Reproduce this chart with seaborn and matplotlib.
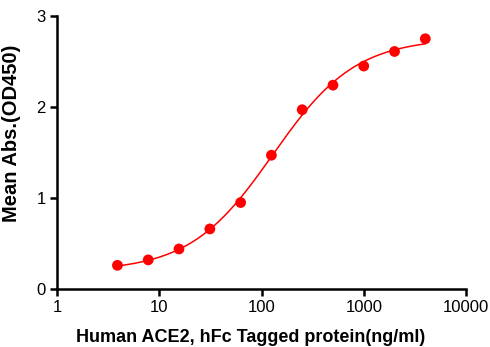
import numpy as np
import pandas as pd
import matplotlib
matplotlib.use("Agg")
import matplotlib.pyplot as plt
import seaborn as sns

# Concentration series (ng/ml) and mean OD450
conc = [3.9, 7.8, 15.6, 31.25, 62.5, 125, 250, 500, 1000, 2000, 4000]
od450 = [0.26, 0.32, 0.44, 0.66, 0.95, 1.47, 1.97, 2.24, 2.45, 2.61, 2.75]

x_ticks = [1, 10, 100, 1000, 10000]
x_tick_labels = ["1", "10", "100", "1000", "10000"]
y_ticks = [0, 1, 2, 3]

x_label = "Human ACE2, hFc Tagged protein(ng/ml)"
y_label = "Mean Abs.(OD450)"

df = pd.DataFrame({"conc": conc, "od": od450})


def logistic_4pl(x, bottom, top, ec50, hill):
    return bottom + (top - bottom) / (1 + (ec50 / x) ** hill)


# 4PL fit: grid over EC50 / hill, bottom and top solved by least squares
xs = df["conc"].to_numpy()
ys = df["od"].to_numpy()
best = None
for log_ec in np.linspace(1.0, 3.5, 251):
    for hill in np.linspace(0.5, 2.5, 201):
        f = 1 / (1 + (10 ** log_ec / xs) ** hill)
        A = np.column_stack([1 - f, f])
        coef, *_ = np.linalg.lstsq(A, ys, rcond=None)
        err = np.sum((A @ coef - ys) ** 2)
        if best is None or err < best[0]:
            best = (err, coef[0], coef[1], 10 ** log_ec, hill)
_, bottom, top, ec50, hill = best

curve = pd.DataFrame({"conc": np.geomspace(min(conc), max(conc), 300)})
curve["od"] = logistic_4pl(curve["conc"], bottom, top, ec50, hill)

sns.set_theme(style="ticks")
plt.rcParams["font.family"] = ["Liberation Sans", "DejaVu Sans"]
plt.rcParams["text.color"] = "black"
plt.rcParams["axes.labelcolor"] = "black"

fig = plt.figure(figsize=(4.9, 3.47), dpi=100)
ax = fig.add_axes([57 / 490, 1 - 289 / 347, (466 - 57) / 490, (289 - 16) / 347])

sns.lineplot(data=curve, x="conc", y="od", color="#FF0000", linewidth=1.1, ax=ax)
sns.scatterplot(data=df, x="conc", y="od", color="#FF0000", s=60, edgecolor="none",
                ax=ax, zorder=3, clip_on=False)

ax.set_xscale("log")
ax.set_xlim(1, 10000)
ax.set_ylim(0, 3)
ax.set_xticks(x_ticks)
ax.set_xticklabels(x_tick_labels)
ax.minorticks_off()
ax.set_yticks(y_ticks)

for side in ["top", "right"]:
    ax.spines[side].set_visible(False)
for side in ["left", "bottom"]:
    ax.spines[side].set_linewidth(1.8)
    ax.spines[side].set_color("black")
ax.tick_params(axis="both", length=5, width=1.8, color="black", labelsize=12,
               labelcolor="black", pad=3)

ax.set_xlabel("")
ax.set_ylabel(y_label, fontsize=14.5, fontweight="bold", color="black")
ax.yaxis.set_label_coords(-0.088, 0.57)

# x label sits low, partly cut off by the figure edge as in the reference
fig.text(251 / 490, 1 - 329 / 347, x_label, ha="center", va="top",
         fontsize=13, fontweight="bold", color="black")

fig.savefig("out.png", dpi=100)
